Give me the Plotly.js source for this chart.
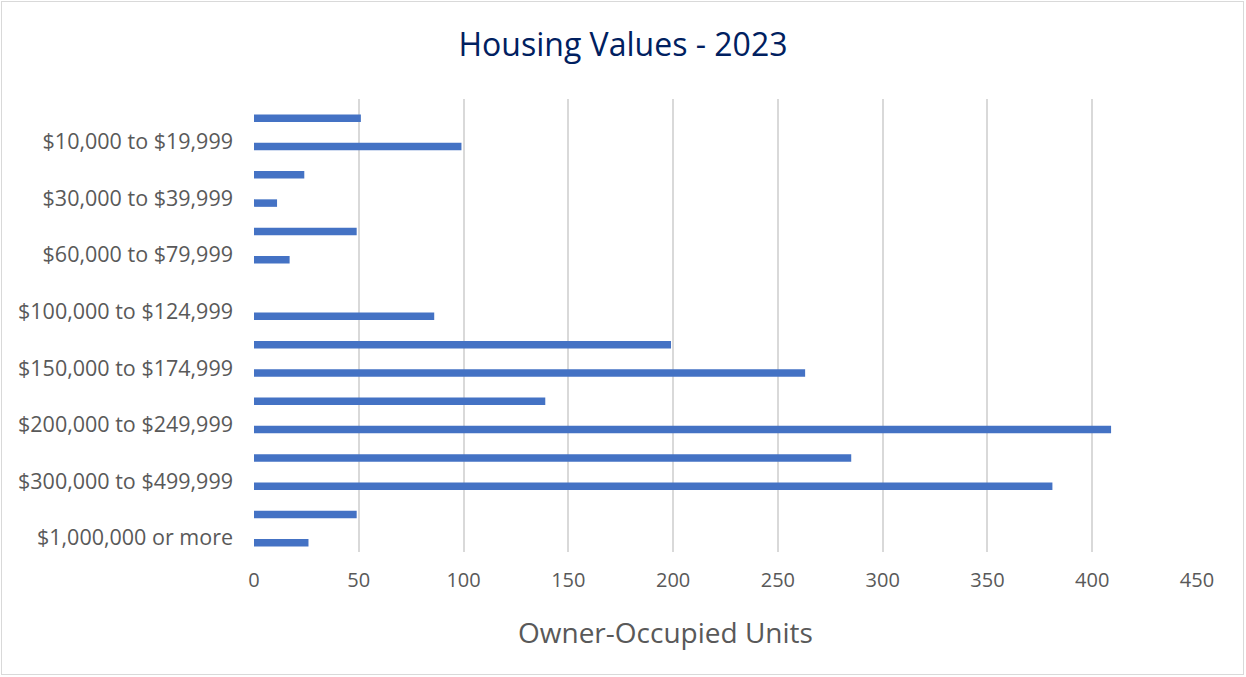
<!DOCTYPE html>
<html>
<head>
<meta charset="utf-8">
<script src="https://cdn.plot.ly/plotly-3.0.1.min.js"></script>
<style>
  html, body { margin: 0; padding: 0; background: #ffffff; }
  #wrap { position: relative; width: 1246px; height: 677px; }
  #chart { width: 1246px; height: 677px; }
  #frame { position: absolute; left: 1px; top: 1px; width: 1241px; height: 672px;
           border: 1.5px solid #d9d9d9; pointer-events: none; }
</style>
</head>
<body>
<div id="wrap">
  <div id="chart"></div>
  <div id="frame"></div>
</div>
<script>
const categories = [
  "Less than $10,000",
  "$10,000 to $19,999",
  "$20,000 to $29,999",
  "$30,000 to $39,999",
  "$40,000 to $59,999",
  "$60,000 to $79,999",
  "$80,000 to $99,999",
  "$100,000 to $124,999",
  "$125,000 to $149,999",
  "$150,000 to $174,999",
  "$175,000 to $199,999",
  "$200,000 to $249,999",
  "$250,000 to $299,999",
  "$300,000 to $499,999",
  "$500,000 to $999,999",
  "$1,000,000 or more"
];
const units = [51, 99, 24, 11, 49, 17, 0, 86, 199, 263, 139, 409, 285, 381, 49, 26];
const shownLabels = [
  "$10,000 to $19,999",
  "$30,000 to $39,999",
  "$60,000 to $79,999",
  "$100,000 to $124,999",
  "$150,000 to $174,999",
  "$200,000 to $249,999",
  "$300,000 to $499,999",
  "$1,000,000 or more"
];
const xTicks = [0, 50, 100, 150, 200, 250, 300, 350, 400, 450];

const FONT = "Open Sans, Lato, Liberation Sans, sans-serif";

const trace = {
  type: "bar",
  orientation: "h",
  y: categories,
  x: units,
  marker: { color: "#4472C4" },
  width: 0.265,
  offset: 0.044,
  hoverinfo: "x+y"
};

const layout = {
  width: 1246,
  height: 677,
  margin: { l: 254, r: 49, t: 99, b: 125, pad: 0 },
  paper_bgcolor: "#ffffff",
  plot_bgcolor: "#ffffff",
  showlegend: false,
  font: { family: FONT, color: "#595959", size: 20 },
  title: {
    text: "Housing Values - 2023",
    font: { family: FONT, size: 32, color: "#002060" },
    xref: "container", x: 0.5, xanchor: "center",
    yref: "container", y: 1 - 45 / 677, yanchor: "middle"
  },
  xaxis: {
    range: [0, 450],
    tickmode: "array",
    tickvals: xTicks,
    ticktext: xTicks.map(String),
    showgrid: true,
    gridcolor: "#d9d9d9",
    gridwidth: 1.6,
    zeroline: false,
    showline: false,
    ticks: "",
    ticklabelstandoff: 14,
    tickfont: { family: FONT, size: 20, color: "#595959" },
    fixedrange: true
  },
  yaxis: {
    type: "category",
    categoryorder: "array",
    categoryarray: categories,
    range: [15.5, -0.5],
    tickmode: "array",
    tickvals: shownLabels,
    ticktext: shownLabels,
    showgrid: false,
    zeroline: false,
    showline: false,
    ticks: "",
    ticklabelstandoff: 20,
    tickfont: { family: FONT, size: 21.5, color: "#595959" },
    fixedrange: true
  },
  annotations: [{
    text: "Owner-Occupied Units",
    xref: "paper", yref: "paper",
    x: (665 - 254) / 943, y: (552 - 632) / 453,
    xanchor: "center", yanchor: "middle",
    showarrow: false,
    font: { family: FONT, size: 28, color: "#595959" }
  }]
};

Plotly.newPlot("chart", [trace], layout, { displayModeBar: false, staticPlot: false, responsive: false });
</script>
</body>
</html>
